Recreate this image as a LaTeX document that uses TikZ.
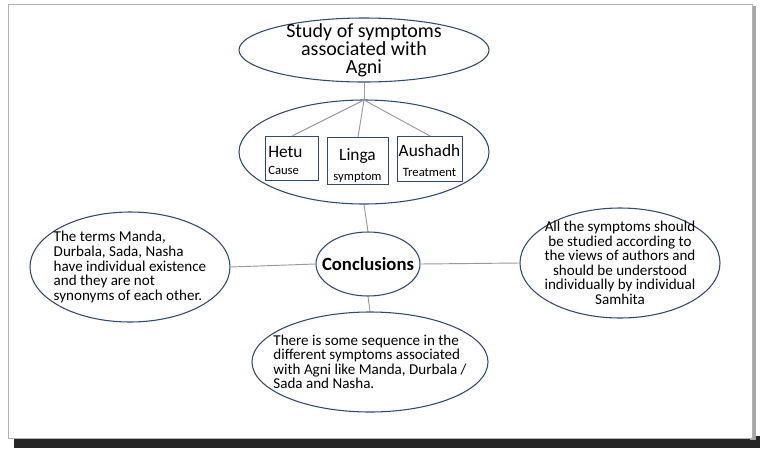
\documentclass[tikz,border=0pt]{standalone}
\usepackage{fontspec}
\setmainfont{Carlito}
\usetikzlibrary{shapes.geometric}
\definecolor{edge}{HTML}{2F4A6E}
\begin{document}
\begin{tikzpicture}[x=0.75pt,y=-0.75pt,
  ell/.style={draw=edge,line width=0.8pt,ellipse,inner sep=0pt,fill=white},
  box/.style={draw=edge,line width=0.8pt,rectangle,fill=white,inner sep=0pt},
  con/.style={draw=gray!80,line width=0.7pt},
  txt/.style={align=center,font=\fontsize{11.3}{10.9}\selectfont}]
\useasboundingbox (0,0) rectangle (765,458);
\fill[black!85] (14,436) rectangle (760,448);
\fill[gray!70] (750,6) rectangle (756,440);
\draw[gray!60,fill=white] (8,4) rectangle (752,438);
% ellipses
\node[ell,minimum width=187.5pt,minimum height=48pt] (top) at (364,50) {};
\node[txt,font=\fontsize{15}{13.5}\selectfont] at (364,50) {Study of symptoms\\associated with\\Agni};
\node[ell,minimum width=187.5pt,minimum height=78pt] (mid) at (364,152) {};
\node[ell,minimum width=78pt,minimum height=48pt] (conc) at (368,264) {};
\node[font=\fontsize{14}{16}\selectfont\bfseries] at (368,264) {Conclusions};
\node[ell,minimum width=150pt,minimum height=82.5pt] (left) at (130,267) {};
\node[txt,align=left] at (130,267) {The terms Manda,\\Durbala, Sada, Nasha\\have individual existence\\and they are not\\synonyms of each other.};
\node[ell,minimum width=150pt,minimum height=82.5pt] (right) at (620,263) {};
\node[txt] at (620,263) {All the symptoms should\\be studied according to\\the views of authors and\\should be understood\\individually by individual\\Samhita};
\node[ell,minimum width=177pt,minimum height=75pt] (bot) at (370,362) {};
\node[txt,align=left] at (370,362) {There is some sequence in the\\different symptoms associated\\with Agni like Manda, Durbala /\\Sada and Nasha.};
% boxes
\node[box,minimum width=39.75pt,minimum height=33pt,anchor=north west] (hetu) at (265,136) {};
\node[anchor=north west,align=left,inner sep=0pt] at (268,146) {\fontsize{13}{14}\selectfont Hetu\\[1pt]\fontsize{9.5}{11}\selectfont Cause};
\node[box,minimum width=45.75pt,minimum height=35.25pt,anchor=north west] (linga) at (327,137) {};
\node[anchor=north,align=center,inner sep=0pt] at (357.5,148) {\fontsize{13}{14}\selectfont Linga\\[3pt]\fontsize{9.5}{11}\selectfont symptom};
\node[box,minimum width=48.75pt,minimum height=33.75pt,anchor=north west] (aus) at (397,136) {};
\node[anchor=north,align=center,inner sep=0pt] at (429.5,144) {\fontsize{13}{14}\selectfont Aushadh\\[3pt]\fontsize{9.5}{11}\selectfont Treatment};
% connectors
\coordinate (hub) at (364,100);
\draw[con] (top.south) -- (mid.north);
\draw[con] (hub) -- (hetu.north);
\draw[con] (hub) -- (linga.north);
\draw[con] (hub) -- (aus.north);
\draw[con] (mid.south) -- (conc.north);
\draw[con] (left.east) -- (conc.west);
\draw[con] (conc.east) -- (right.west);
\draw[con] (conc.south) -- (bot.north);
\end{tikzpicture}
\end{document}
